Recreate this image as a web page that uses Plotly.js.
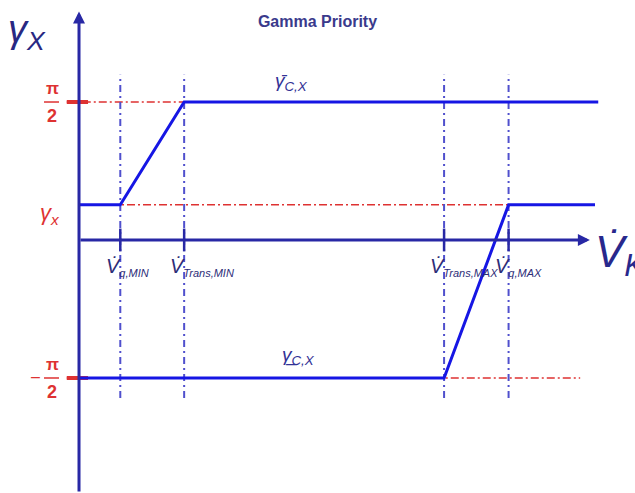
<!DOCTYPE html>
<html>
<head>
<meta charset="utf-8">
<script src="https://cdn.plot.ly/plotly-3.0.1.min.js"></script>
<style>
  html, body { margin: 0; padding: 0; background: #fff; }
  #chart { width: 635px; height: 493px; }
</style>
</head>
<body>
<div id="chart"></div>
<script>
// ---- values -------------------------------------------------------------
const HALF_PI = Math.PI / 2;
const gammaX = 0.4;                                   // γx level (rad)

// speed breakpoints on the V̇K axis and their tick labels
const speedBreaks = [0.64, 1.63, 5.66, 6.66];
const speedLabels = ['q,MIN', 'Trans,MIN', 'Trans,MAX', 'q,MAX'];

// upper bound  γ̄c,x(V̇K)
const upperX = [0, 0.64, 1.63, 8.05];
const upperY = [gammaX, gammaX, HALF_PI, HALF_PI];

// lower bound  γc,x(V̇K)
const lowerX = [0, 5.66, 6.66, 8.0];
const lowerY = [-HALF_PI, -HALF_PI, gammaX, gammaX];

// red reference levels (+π/2, γx, −π/2) and their horizontal extent
const refLevels = [HALF_PI, gammaX, -HALF_PI];
const refStart  = [-0.19, 0, -0.19];
const refEnd    = [1.63, 6.66, 7.77];

// vertical extent of the breakpoint guide lines
const guideSpan = [-1.80, 1.88];

// axis extents
const xAxisEnd = 7.92;
const yAxisTop = 2.60;
const yAxisBottom = -2.88;

// ---- styles ---------------------------------------------------------------
const FONT = 'Liberation Sans, Arial, sans-serif';
const CURVE = 'rgb(22,22,228)';
const AXIS = 'rgb(40,40,165)';
const GUIDE = 'rgb(80,80,205)';
const RED = 'rgb(222,50,50)';
const INK = 'rgb(45,45,120)';

// ---- traces ---------------------------------------------------------------
const traces = [];

// dash-dot red reference lines
refLevels.forEach((lv, i) => {
  traces.push({
    x: [refStart[i], refEnd[i]], y: [lv, lv], mode: 'lines',
    line: { color: RED, width: 1.5, dash: '8px,3px,2px,3px' },
    hoverinfo: 'skip'
  });
});

// short thick red marks where ±π/2 meet the vertical axis
[HALF_PI, -HALF_PI].forEach(lv => {
  traces.push({
    x: [refStart[0], 0.14], y: [lv, lv], mode: 'lines',
    line: { color: RED, width: 4 }, hoverinfo: 'skip'
  });
});

// vertical guide lines at each speed breakpoint
speedBreaks.forEach(b => {
  traces.push({
    x: [b, b], y: guideSpan, mode: 'lines',
    line: { color: GUIDE, width: 2, dash: '7px,4px,2px,4px' },
    hoverinfo: 'skip'
  });
});

// the two bounds
traces.push({ x: upperX, y: upperY, mode: 'lines', line: { color: CURVE, width: 3 }, hoverinfo: 'skip' });
traces.push({ x: lowerX, y: lowerY, mode: 'lines', line: { color: CURVE, width: 3 }, hoverinfo: 'skip' });

// tick marks on the horizontal axis
speedBreaks.forEach(b => {
  traces.push({
    x: [b, b], y: [0.13, -0.13], mode: 'lines',
    line: { color: AXIS, width: 2.5 }, hoverinfo: 'skip'
  });
});

// ---- annotations ------------------------------------------------------------
const ann = [];

// axes drawn as arrows
ann.push({ x: xAxisEnd, y: 0, ax: 0, ay: 0, xref: 'x', yref: 'y', axref: 'x', ayref: 'y',
  text: '', showarrow: true, arrowhead: 2, arrowsize: 0.8, arrowwidth: 3, arrowcolor: AXIS, standoff: 0 });
ann.push({ x: 0, y: yAxisTop, ax: 0, ay: yAxisBottom, xref: 'x', yref: 'y', axref: 'x', ayref: 'y',
  text: '', showarrow: true, arrowhead: 2, arrowsize: 0.8, arrowwidth: 3, arrowcolor: AXIS, standoff: 0 });

// tick labels
speedBreaks.forEach((b, i) => {
  ann.push({
    x: b, y: 0, xref: 'x', yref: 'y', xanchor: 'left', yanchor: 'top',
    xshift: -16, yshift: -13, showarrow: false,
    text: '<i>V̇<sub><span style="font-size:11px">' + speedLabels[i] + '</span></sub></i>',
    font: { family: FONT, size: 20, color: INK }
  });
});

// axis names
ann.push({ x: 0, y: 1, xref: 'paper', yref: 'paper', xanchor: 'left', yanchor: 'top',
  xshift: 6, yshift: -6, showarrow: false,
  text: '<i>γ<sub>X</sub></i>', font: { family: FONT, size: 38, color: 'rgb(40,40,130)' } });
ann.push({ x: xAxisEnd, y: 0, xref: 'x', yref: 'y', xanchor: 'left', yanchor: 'middle',
  xshift: 3, yshift: -15, showarrow: false,
  text: '<i>V̇<sub>K</sub></i>', font: { family: FONT, size: 44, color: 'rgb(40,40,140)' } });

// curve names
ann.push({ x: 3.3, y: HALF_PI, xref: 'x', yref: 'y', xanchor: 'center', yanchor: 'bottom',
  yshift: 6, showarrow: false,
  text: '<i>γ̄<sub>C,X</sub></i>', font: { family: FONT, size: 19, color: 'rgb(50,50,150)' } });
ann.push({ x: 3.4, y: -HALF_PI, xref: 'x', yref: 'y', xanchor: 'center', yanchor: 'bottom',
  yshift: 8, showarrow: false,
  text: '<i>γ̲<sub>C,X</sub></i>', font: { family: FONT, size: 19, color: 'rgb(50,50,150)' } });

// red level labels: π/2 fractions and γx
[HALF_PI, -HALF_PI].forEach(lv => {
  ann.push({ x: 0, y: lv, xref: 'x', yref: 'y', xanchor: 'center', yanchor: 'bottom',
    xshift: -27, yshift: 2, showarrow: false, text: '<b>π</b>',
    font: { family: FONT, size: 17, color: RED } });
  ann.push({ x: 0, y: lv, xref: 'x', yref: 'y', xanchor: 'center', yanchor: 'top',
    xshift: -27, yshift: -2, showarrow: false, text: '<b>2</b>',
    font: { family: FONT, size: 18, color: RED } });
});
ann.push({ x: 0, y: -HALF_PI, xref: 'x', yref: 'y', xanchor: 'center', yanchor: 'middle',
  xshift: -44, yshift: 1, showarrow: false, text: '–',
  font: { family: FONT, size: 16, color: RED } });
ann.push({ x: 0, y: gammaX, xref: 'x', yref: 'y', xanchor: 'center', yanchor: 'middle',
  xshift: -29, yshift: -9, showarrow: false, text: '<i>γ<sub>x</sub></i>',
  font: { family: FONT, size: 22, color: RED } });

// fraction bars of ±π/2
const shapes = [HALF_PI, -HALF_PI].map(lv => ({
  type: 'line', xref: 'x', yref: 'y', xsizemode: 'pixel', xanchor: 0,
  x0: -35, x1: -20, y0: lv, y1: lv,
  line: { color: RED, width: 1.5 }
}));

const layout = {
  width: 635, height: 493,
  margin: { l: 0, r: 0, t: 0, b: 0 },
  paper_bgcolor: '#ffffff', plot_bgcolor: '#ffffff',
  showlegend: false,
  title: {
    text: '<b>Gamma Priority</b>', x: 0.5, xanchor: 'center',
    y: 0.957, yanchor: 'middle',
    font: { family: FONT, size: 16, color: 'rgb(58,58,140)' }
  },
  xaxis: { range: [-1.225, 8.62], visible: false, fixedrange: true },
  yaxis: { range: [-2.88, 2.732], visible: false, fixedrange: true },
  annotations: ann,
  shapes: shapes
};

Plotly.newPlot('chart', traces, layout, { staticPlot: true, displayModeBar: false });
</script>
</body>
</html>
